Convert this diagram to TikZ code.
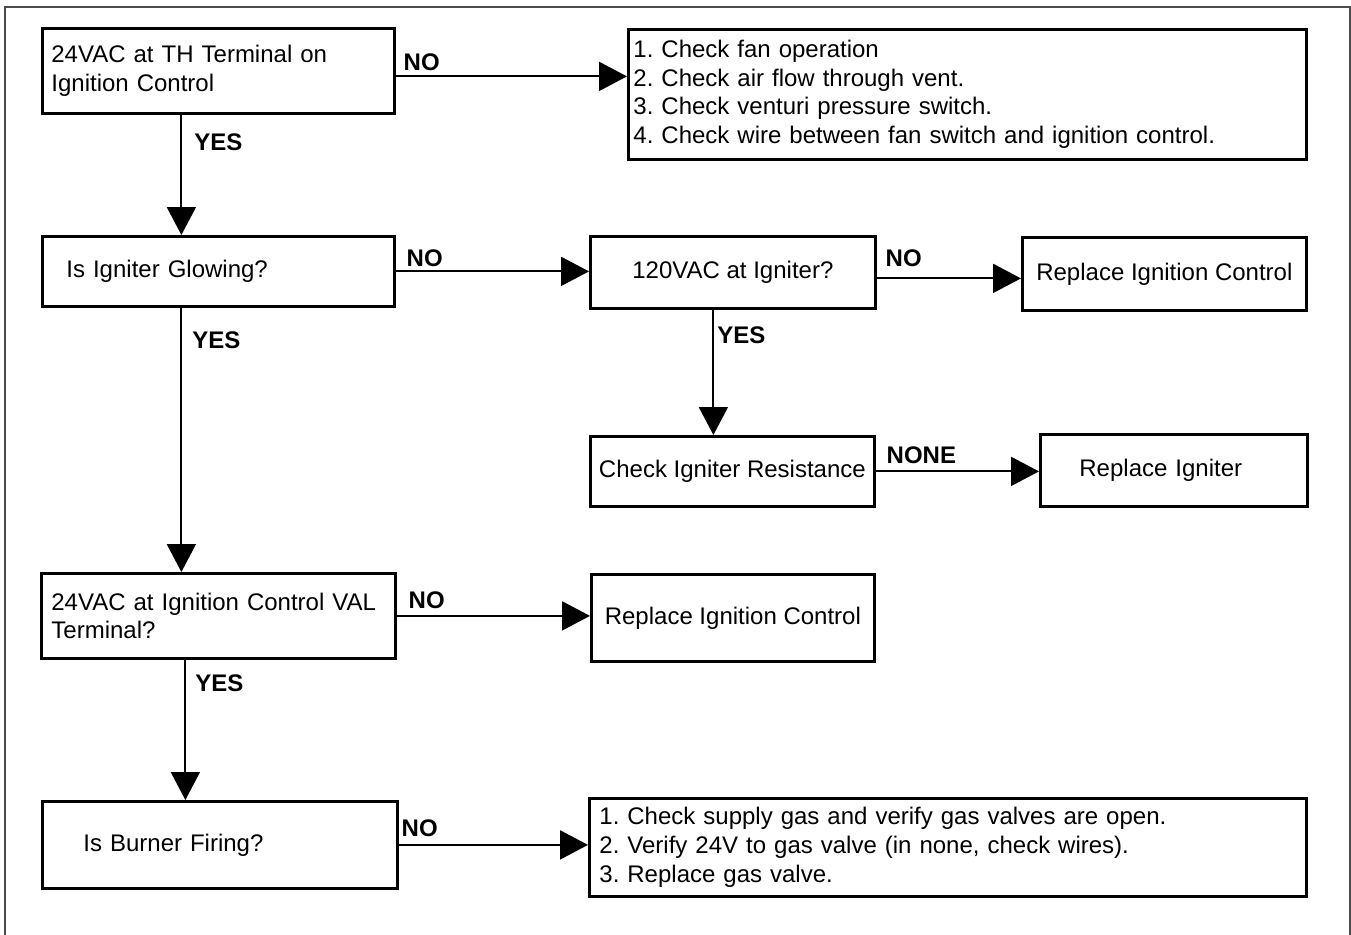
\documentclass[tikz,border=0pt]{standalone}
\usepackage{fontspec}
\setmainfont{Liberation Sans}
\usetikzlibrary{arrows.meta,positioning}
\frenchspacing
\newcommand{\chartfont}{\fontsize{13.66pt}{16.4pt}\selectfont}
\tikzset{
    query/.style={
    rectangle,draw=black,line width=1.6pt,anchor=north west,font=\chartfont
    },
    remedy/.style={
    rectangle,draw=black,line width=1.6pt,anchor=north west,font=\chartfont
    },
    answer/.style={
    font=\chartfont\bfseries,inner sep=0pt
    },
    flow/.style={
    line width=1.1pt,-{Triangle[length=0.56cm,width=0.58cm]}
    },
    frame/.style={
    draw=black!70,line width=0.6pt
    },
}
\begin{document}
\begin{tikzpicture}[x=0.02cm, y=-0.02cm]
   \useasboundingbox (0,0) rectangle (1351,935);
   \draw[frame] (5,935) |- (1350,7) -- (1350,935);

   %questions, left column
   \node[query,minimum width=7.04cm,minimum height=1.70cm,text width=6.68cm,inner xsep=0.18cm,align=left] (th) at (41,27) {24VAC at TH Terminal on\\Ignition Control};
   \node[query,minimum width=7.04cm,minimum height=1.40cm,text width=6.08cm,inner xsep=0.48cm,align=left] (glow) at (41,235) {Is Igniter Glowing?};
   \node[query,minimum width=7.08cm,minimum height=1.70cm,text width=6.68cm,inner xsep=0.2cm,align=left] (val) at (40,572) {24VAC at Ignition Control VAL\\Terminal?};
   \node[query,minimum width=7.10cm,minimum height=1.74cm,text width=5.46cm,inner xsep=0.82cm,align=left] (burner) at (41,800) {Is Burner Firing?};

   %igniter branch
   \node[query,minimum width=5.70cm,minimum height=1.44cm] (igv) at (589,235) {120VAC at Igniter?};
   \node[query,minimum width=5.68cm,minimum height=1.40cm] (res) at (589,435) {Check Igniter Resistance};

   %remedies
   \node[remedy,minimum width=13.56cm,minimum height=2.60cm,text width=13.36cm,inner xsep=0.1cm,align=left] (fan) at (627,28) {1. Check fan operation\\2. Check air flow through vent.\\3. Check venturi pressure switch.\\4. Check wire between fan switch and ignition control.};
   \node[remedy,minimum width=5.68cm,minimum height=1.46cm] (ctl1) at (1021,236) {Replace Ignition Control};
   \node[remedy,minimum width=5.34cm,minimum height=1.44cm,text width=3.78cm,inner xsep=0.78cm,align=left] (replign) at (1039,433) {Replace Igniter};
   \node[remedy,minimum width=5.66cm,minimum height=1.74cm] (ctl2) at (590,573) {Replace Ignition Control};
   \node[remedy,minimum width=14.34cm,minimum height=1.96cm,text width=13.94cm,inner xsep=0.2cm,align=left] (gas) at (588,797) {1. Check supply gas and verify gas valves are open.\\2. Verify 24V to gas valve (in none, check wires).\\3. Replace gas valve.};

  \path[flow]
    ([yshift=-0.11cm]th.east) edge node[answer,pos=0,above right=0.09cm and 0.14cm] {NO} ([yshift=-0.11cm]th.east -| fan.west)
    ([xshift=-0.74cm]th.south) edge node[answer,pos=0.23,right=0.24cm] {YES} ([xshift=-0.74cm]th.south |- glow.north)

    %igniter glowing
    (glow.east) edge node[answer,pos=0,above right=0.08cm and 0.2cm] {NO} (glow.east -| igv.west)
    ([xshift=-0.74cm]glow.south) edge node[answer,pos=0.124,right=0.2cm] {YES} ([xshift=-0.74cm]glow.south |- val.north)
    ([yshift=-0.12cm]igv.east) edge node[answer,pos=0,above right=0.21cm and 0.16cm] {NO} ([yshift=-0.12cm]igv.east -| ctl1.west)
    ([xshift=-0.39cm]igv.south) edge node[answer,pos=0.2,right=0.06cm] {YES} ([xshift=-0.39cm]igv.south |- res.north)
    (res.east) edge node[answer,pos=0,above right=0.13cm and 0.2cm] {NONE} (res.east -| replign.west)

    %valve and burner
    (val.east) edge node[answer,pos=0,above right=0.13cm and 0.22cm] {NO} (val.east -| ctl2.west)
    ([xshift=-0.66cm]val.south) edge node[answer,pos=0.17,right=0.18cm] {YES} ([xshift=-0.66cm]val.south |- burner.north)
    (burner.east) edge node[answer,pos=0,above right=0.15cm and 0.04cm] {NO} (burner.east -| gas.west);
\end{tikzpicture}
\end{document}
